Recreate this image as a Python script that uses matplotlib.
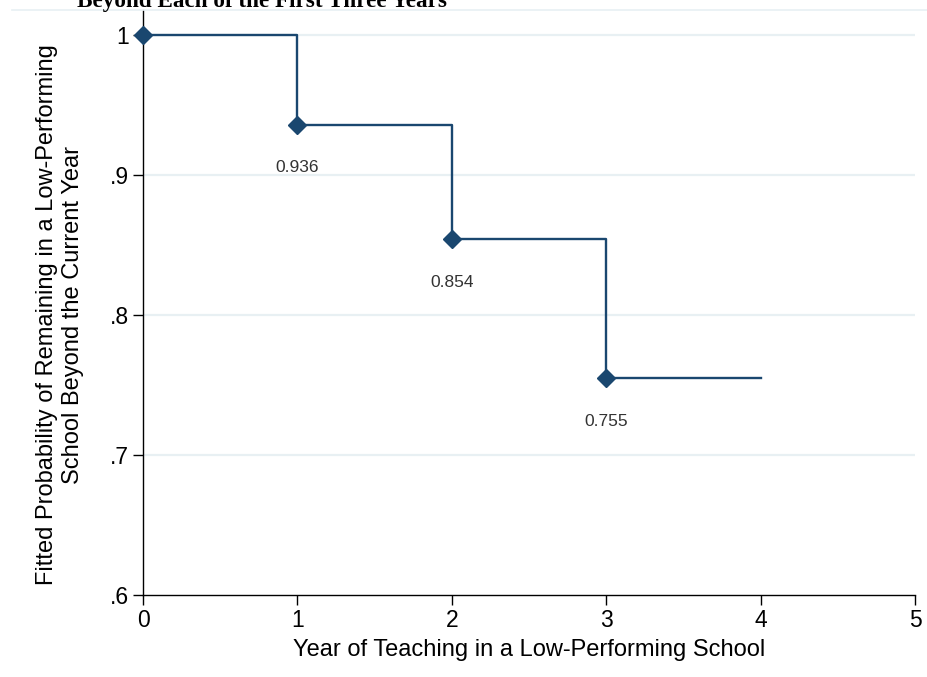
import matplotlib
matplotlib.use("Agg")
import matplotlib.pyplot as plt
from matplotlib.lines import Line2D

years = [0, 1, 2, 3, 4]
probs = [1.0, 0.936, 0.854, 0.755, 0.755]
marker_years = [0, 1, 2, 3]
marker_probs = [1.0, 0.936, 0.854, 0.755]
labels = ["0.936", "0.854", "0.755"]
label_years = [1, 2, 3]
label_probs = [0.936, 0.854, 0.755]

navy = "#1a476f"
W, H = 927, 677
fig = plt.figure(figsize=(W / 100, H / 100), dpi=100)
fig.patch.set_facecolor("white")

left, right, bottom, top = 143, 915, 595, 10
ax = fig.add_axes([left / W, 1 - bottom / H, (right - left) / W, (bottom - top) / H])
y_top = 1.0 + (35 - top) / 1400.0
ax.set_xlim(0, 5)
ax.set_ylim(0.6, y_top)

for g in [0.7, 0.8, 0.9, 1.0]:
    ax.axhline(g, color="#e8f0f3", lw=1.6, zorder=0)

# faint border along the top of the plot region
fig.add_artist(Line2D([12 / W, 1.0], [1 - 10 / H, 1 - 10 / H],
                      color="#e8f0f3", lw=1.2, transform=fig.transFigure))

ax.step(years, probs, where="post", color=navy, lw=1.7, zorder=3)
ax.plot(marker_years, marker_probs, "D", color=navy, markersize=9.5, zorder=4, clip_on=False)

for t, xv, yv in zip(labels, label_years, label_probs):
    ax.annotate(t, (xv, yv), xytext=(0, -31), textcoords="offset points",
                ha="center", va="center", fontsize=12.5, color="#333333",
                family="Liberation Sans")

for s in ["top", "right"]:
    ax.spines[s].set_visible(False)
for s in ["left", "bottom"]:
    ax.spines[s].set_color("black")
    ax.spines[s].set_linewidth(1.0)

ax.set_xticks([0, 1, 2, 3, 4, 5])
ax.set_xticklabels(["0", "1", "2", "3", "4", "5"])
ax.set_yticks([0.6, 0.7, 0.8, 0.9, 1.0])
ax.set_yticklabels([".6", ".7", ".8", ".9", "1"])
ax.tick_params(direction="out", length=7, width=1, color="black",
               labelsize=16.5, pad=3)
for lab in ax.get_xticklabels() + ax.get_yticklabels():
    lab.set_family("Liberation Sans")

ax.set_xlabel("Year of Teaching in a Low-Performing School",
              fontsize=17, family="Liberation Sans")
ax.xaxis.set_label_coords(0.5, -(650 - bottom) / (bottom - top), transform=ax.transAxes)
ax.xaxis.label.set_va("center")
ax.set_ylabel("Fitted Probability of Remaining in a Low-Performing\nSchool Beyond the Current Year",
              fontsize=17, family="Liberation Sans")
ax.yaxis.label.set_linespacing(1.2)
ax.yaxis.set_label_coords(-(left - 60) / (right - left), (bottom - 315) / (bottom - top))
ax.yaxis.label.set_va("center")

fig.text(77 / W, 1 - 7 / H, "Beyond Each of the First Three Years",
         family="Liberation Serif", fontweight="bold", fontsize=16.7,
         va="baseline", ha="left")

fig.savefig("out.png", dpi=100, facecolor="white")
